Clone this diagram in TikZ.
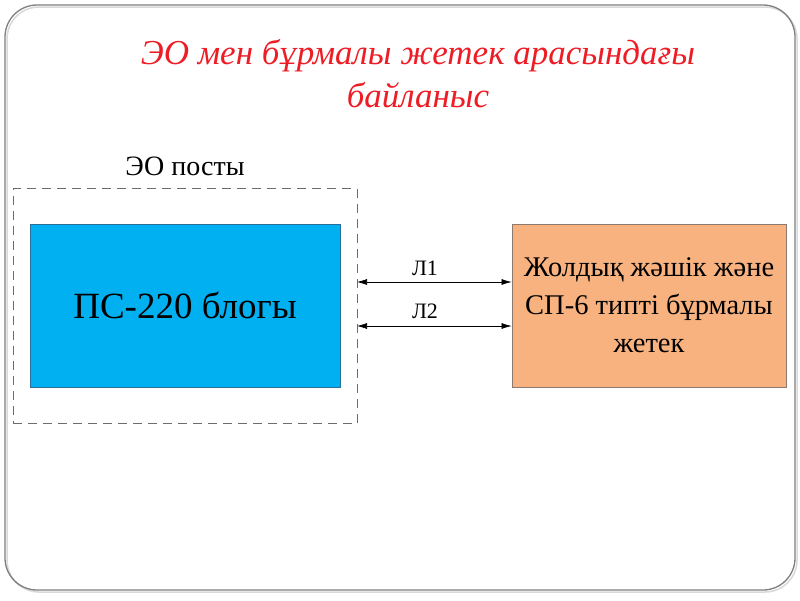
\documentclass[tikz,border=0pt]{standalone}
\usepackage{fontspec}
\setmainfont{Liberation Serif}
\usetikzlibrary{arrows.meta}
\definecolor{boxblue}{HTML}{00B0F0}
\definecolor{blueedge}{HTML}{2A6F97}
\definecolor{boxorange}{HTML}{F7B27F}
\definecolor{orangeedge}{HTML}{8C7A70}
\definecolor{titlered}{HTML}{EE1C25}
\definecolor{frame}{HTML}{7F7F7F}
\tikzset{
  blockbox/.style={draw, line width=0.8pt, inner sep=0pt, align=center, font=\fontsize{37}{40}\selectfont},
  link/.style={draw=black, line width=0.6pt, {Latex[length=10pt,width=6pt]}-{Latex[length=10pt,width=6pt]}},
  lbl/.style={font=\fontsize{22}{24}\selectfont, inner sep=0pt}
}
\begin{document}
\begin{tikzpicture}[x=1pt,y=-1pt]
\useasboundingbox (0,0) rectangle (800,600);
\fill[white] (0,0) rectangle (800,600);
% slide frame with faint shadow
\draw[rounded corners=32pt, draw=gray!30, line width=1.5pt] (7,7) rectangle (797,592);
\draw[rounded corners=32pt, draw=frame, line width=1.3pt] (5,5) rectangle (795,590);
% title
\node[text=titlered, font=\itshape\fontsize{35}{43}\selectfont, align=center] (title) at (418,74)
  {ЭО мен бұрмалы жетек арасындағы\\байланыс};
% dashed post
\node[draw=gray!85!black, dashed, dash pattern=on 9pt off 6pt, line width=0.9pt, minimum width=344pt, minimum height=235pt, inner sep=0pt] (post) at (185,306) {};
\node[font=\fontsize{28}{30}\selectfont, inner sep=0pt] (postlbl) at (185,166) {ЭО посты};
% blocks
\node[blockbox, fill=boxblue, draw=blueedge, minimum width=310pt, minimum height=163pt] (ps) at (185,305.5) {ПС-220 блогы};
\node[blockbox, fill=boxorange, draw=orangeedge, minimum width=274pt, minimum height=163pt, font=\fontsize{28.5}{38}\selectfont] (sp) at (649,305.5)
  {Жолдық жәшік және\\СП-6 типті бұрмалы\\жетек};
% links
\coordinate (a1) at (357,282);
\coordinate (a2) at (357,326);
\draw[link] (a1) -- (sp.west |- a1);
\draw[link] (a2) -- (sp.west |- a2);
\node[lbl] (l1) at (425,268) {Л1};
\node[lbl] (l2) at (425,311) {Л2};
\end{tikzpicture}
\end{document}
